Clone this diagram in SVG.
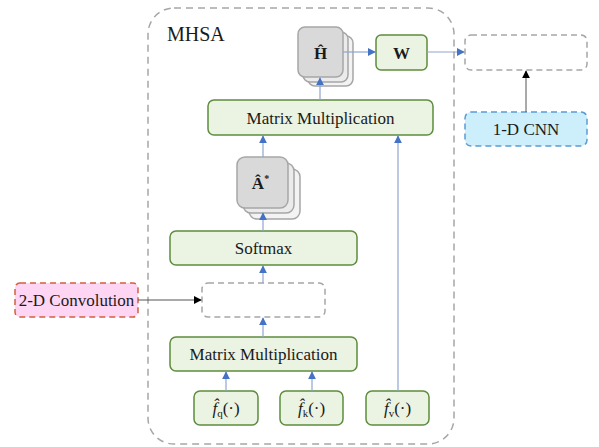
<svg xmlns="http://www.w3.org/2000/svg" width="599" height="447" viewBox="0 0 599 447">
<defs>
<marker id="ab" viewBox="0 0 10 10" refX="9" refY="5" markerWidth="8" markerHeight="8" markerUnits="userSpaceOnUse" orient="auto"><path d="M0,0 L10,5 L0,10 z" fill="#4472c4"/></marker>
<marker id="ak" viewBox="0 0 10 10" refX="9" refY="5" markerWidth="8" markerHeight="8" markerUnits="userSpaceOnUse" orient="auto"><path d="M0,0 L10,5 L0,10 z" fill="#000"/></marker>
</defs>
<style>
.g{fill:#ebf3e3;stroke:#5e8d3e;stroke-width:1.5}
.st{fill:#d9d9d9;stroke:#a6a6a6;stroke-width:1.5}
.st2{fill:#ebebeb;stroke:#a6a6a6;stroke-width:1.5}
.st3{fill:#f3f3f3;stroke:#a6a6a6;stroke-width:1.5}
.dg{fill:#fff;stroke:#a6a6a6;stroke-width:1.5;stroke-dasharray:6,4}
.t{font-family:"Liberation Serif","DejaVu Serif",serif;font-size:17px;fill:#1a1a1a;text-anchor:middle}
.b{font-weight:bold}
.c{fill:none;stroke:#8fa5d0;stroke-width:1.2}
.ck{fill:none;stroke:#555;stroke-width:1}
</style>
<rect width="599" height="447" fill="#fff"/>
<g id="mhsa">
<rect x="148" y="8" width="306" height="436" rx="26" fill="none" stroke="#a6a6a6" stroke-width="1.5" stroke-dasharray="7,5"/>
<text x="167" y="41" style="font-family:'Liberation Serif',serif;font-size:20px;fill:#1a1a1a">MHSA</text>
</g>
<g id="H">
<rect class="st3" x="308" y="36" width="45" height="50" rx="7"/>
<rect class="st2" x="303" y="32" width="45" height="50" rx="7"/>
<rect class="st" x="298" y="27" width="45" height="50" rx="7"/>
<text class="t b" x="320.5" y="59">Ĥ</text>
</g>
<g id="W">
<rect class="g" x="376" y="35" width="51" height="35" rx="5"/>
<text class="t b" x="401.5" y="58.5">W</text>
</g>
<g id="out">
<rect class="dg" x="465" y="35" width="122" height="35" rx="6"/>
</g>
<g id="cnn1d">
<rect x="465" y="112" width="122" height="34" rx="6" fill="#cdeefb" stroke="#5b9bd5" stroke-width="1.5" stroke-dasharray="6,4"/>
<text class="t" x="526" y="135">1-D CNN</text>
</g>
<g id="mm2">
<rect class="g" x="208" y="100" width="225" height="35" rx="6"/>
<text class="t" x="320.5" y="123.5">Matrix Multiplication</text>
</g>
<g id="A">
<rect class="st3" x="249" y="169" width="51" height="50" rx="8"/>
<rect class="st2" x="243" y="163" width="51" height="50" rx="8"/>
<rect class="st" x="237" y="157" width="51" height="51" rx="8"/>
<text class="t b" x="260.5" y="189">Â<tspan font-size="10" dy="-7">*</tspan></text>
</g>
<g id="softmax">
<rect class="g" x="170" y="231" width="187" height="34" rx="6"/>
<text class="t" x="263.5" y="254">Softmax</text>
</g>
<g id="mid">
<rect class="dg" x="202" y="283" width="123" height="34" rx="6"/>
</g>
<g id="conv2d">
<rect x="15" y="283" width="123" height="34" rx="5" fill="#fed6f4" stroke="#d35f3f" stroke-width="1.5" stroke-dasharray="6,4"/>
<text class="t" x="76.5" y="306">2-D Convolution</text>
</g>
<g id="mm1">
<rect class="g" x="170" y="337" width="187" height="34" rx="6"/>
<text class="t" x="263.5" y="360">Matrix Multiplication</text>
</g>
<g id="fq">
<rect class="g" x="194" y="391" width="64" height="34" rx="6"/>
<text class="t" x="226" y="414" font-size="18"><tspan font-style="italic">f̂</tspan><tspan font-size="11" dy="3">q</tspan><tspan dy="-3">(·)</tspan></text>
</g>
<g id="fk">
<rect class="g" x="280" y="391" width="63" height="34" rx="6"/>
<text class="t" x="311.5" y="414" font-size="18"><tspan font-style="italic">f̂</tspan><tspan font-size="11" dy="3">k</tspan><tspan dy="-3">(·)</tspan></text>
</g>
<g id="fv">
<rect class="g" x="366" y="391" width="63" height="34" rx="6"/>
<text class="t" x="397.5" y="414" font-size="18"><tspan font-style="italic">f̂</tspan><tspan font-size="11" dy="3">v</tspan><tspan dy="-3">(·)</tspan></text>
</g>
<g id="connectors">
<line class="c" x1="226" y1="391" x2="226" y2="372" marker-end="url(#ab)"/>
<line class="c" x1="312" y1="391" x2="312" y2="372" marker-end="url(#ab)"/>
<line class="c" x1="263" y1="337" x2="263" y2="318" marker-end="url(#ab)"/>
<line class="ck" x1="138" y1="300" x2="201" y2="300" marker-end="url(#ak)"/>
<line class="c" x1="263" y1="283" x2="263" y2="266" marker-end="url(#ab)"/>
<line class="c" x1="263" y1="231" x2="263" y2="213" marker-end="url(#ab)"/>
<line class="c" x1="263" y1="157" x2="263" y2="136" marker-end="url(#ab)"/>
<line class="c" x1="398" y1="391" x2="398" y2="136" marker-end="url(#ab)"/>
<line class="c" x1="320" y1="100" x2="320" y2="78" marker-end="url(#ab)"/>
<line class="c" x1="343" y1="52" x2="375" y2="52" marker-end="url(#ab)"/>
<line class="c" x1="427" y1="52" x2="464" y2="52" marker-end="url(#ab)"/>
<line class="ck" stroke="#999" x1="526" y1="112" x2="526" y2="71" marker-end="url(#ak)"/>
</g>
</svg>
